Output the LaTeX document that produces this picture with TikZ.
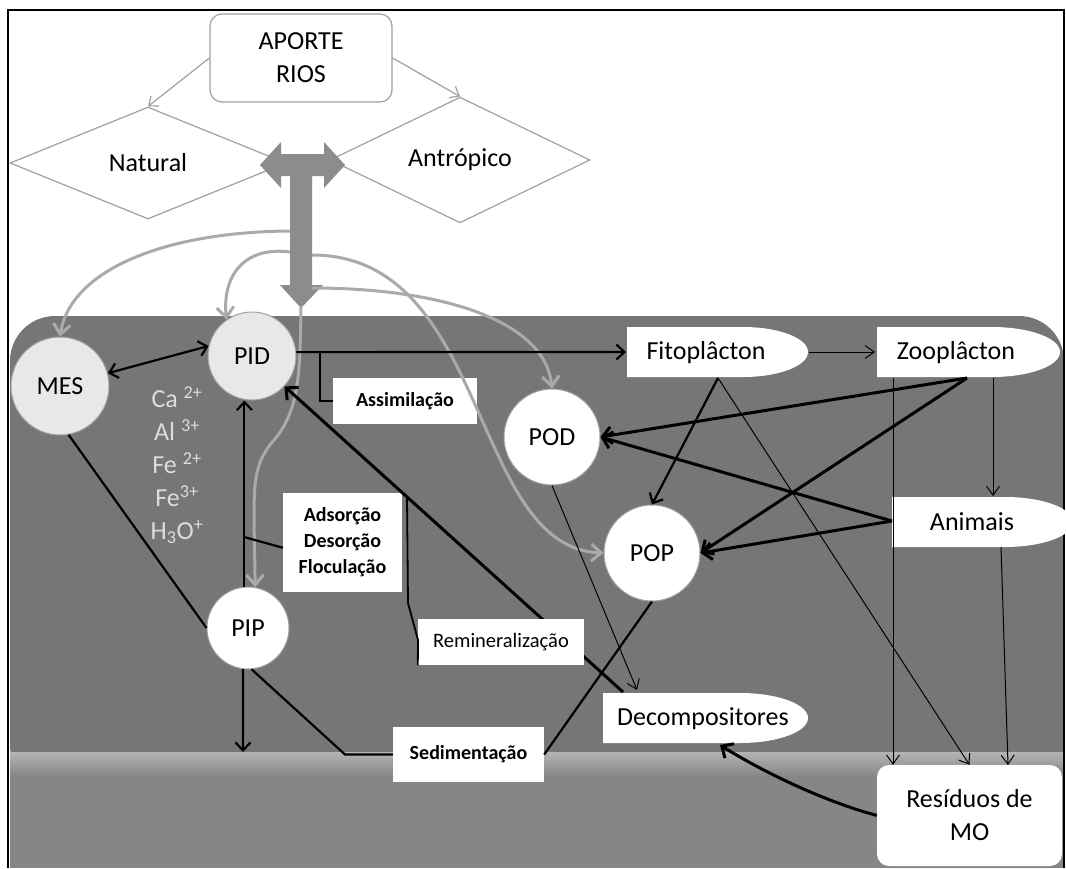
\documentclass[tikz,border=0pt]{standalone}
\usepackage{fontspec}
\setmainfont{Carlito}
\usetikzlibrary{arrows.meta,calc,shapes.geometric}
\definecolor{water}{HTML}{767676}
\definecolor{sed}{HTML}{868686}
\definecolor{sedtop}{HTML}{B4B4B4}
\definecolor{bigarr}{HTML}{8C8C8C}
\definecolor{curvegray}{HTML}{AAAAAA}
\definecolor{lightfill}{HTML}{E8E8E8}
\definecolor{edgegray}{HTML}{A0A0A0}
\definecolor{iongray}{HTML}{DCDCDC}
\tikzset{
  txt/.style={inner sep=0pt, font=\fontsize{26}{33}\selectfont, align=center},
  circ/.style={circle, draw=edgegray, line width=1pt, fill=white, inner sep=0pt, font=\fontsize{26}{33}\selectfont},
  dia/.style={diamond, draw=edgegray, line width=1.2pt, fill=white, inner sep=0pt, font=\fontsize{26}{33}\selectfont},
  lbl/.style={fill=white, inner sep=0pt, font=\bfseries\fontsize{20}{26}\selectfont, align=center},
  pill/.style={fill=white},
  blk/.style={draw=black, line width=2.2pt, -{Straight Barb[length=8pt,width=15pt]}},
  blkk/.style={draw=black, line width=3pt, -{Straight Barb[length=9pt,width=17pt]}},
  thinarr/.style={draw=black, line width=1pt, -{Straight Barb[length=9pt,width=13pt]}},
  ln/.style={draw=black, line width=2.2pt},
  gc/.style={draw=curvegray, line width=3pt, -{Straight Barb[length=10pt,width=17pt]}},
  gthin/.style={draw=edgegray, line width=1.2pt, -{Straight Barb[length=8pt,width=13pt]}},
}
\begin{document}
\begin{tikzpicture}[x=1pt,y=-1pt]
\useasboundingbox (0,0) rectangle (1066,868);
% background
\fill[white] (0,0) rectangle (1066,868);
\fill[water, rounded corners=45pt] (10,790) rectangle (1064,316);
\fill[sed] (10,752) rectangle (1064,868);
\shade[top color=sedtop, bottom color=sed] (10,752) rectangle (1064,776);
\draw[line width=2.5pt] (8,868) -- (8,10) -- (1064,10) -- (1064,868);

% top
\node[draw=edgegray, line width=1.2pt, rounded corners=12pt, fill=white, minimum width=182pt, minimum height=88pt, txt] (aporte) at (301,58) {APORTE\\RIOS};
\node[dia, minimum width=276pt, minimum height=112pt] (natural) at (148,163) {Natural};
\node[dia, minimum width=260pt, minimum height=111pt] (antro) at (460,160) {Antrópico};
\draw[gthin] (aporte.west) -- (natural.north);
\draw[gthin] (aporte.east) -- (antro.north);

% big T arrow
\fill[bigarr] (260,165) -- (281,142) -- (281,154) -- (324,154) -- (324,142) -- (345,165) -- (324,188) -- (324,176) -- (312,176) -- (312,285) -- (323,285) -- (301,308) -- (280,285) -- (290,285) -- (290,176) -- (281,176) -- (281,188) -- cycle;
\coordinate (s1) at (290,231);
\coordinate (s2) at (290,252);
\coordinate (s3) at (312,255);
\coordinate (s4) at (312,288);
\coordinate (stip) at (301,306);

% shapes of the organisms
\fill[pill] (627,327) -- (743,327) arc[start angle=90,end angle=-90,x radius=65pt,y radius=25pt] -- (627,377) -- cycle;
\node[txt] (fito) at (706,353) {Fitoplâcton};
\fill[pill] (877,327) -- (992,327) arc[start angle=90,end angle=-90,x radius=68pt,y radius=25pt] -- (877,377) -- cycle;
\node[txt] (zoo) at (956,353) {Zooplâcton};
\fill[pill] (892,497) -- (1005,497) arc[start angle=90,end angle=-90,x radius=68pt,y radius=25pt] -- (892,547) -- cycle;
\node[txt] (ani) at (972,522) {Animais};
\fill[pill] (603,693) -- (740,693) arc[start angle=90,end angle=-90,x radius=68pt,y radius=25pt] -- (603,743) -- cycle;
\node[txt] (dec) at (703,719) {Decompositores};
\node[fill=white, rounded corners=12pt, minimum width=185pt, minimum height=101pt, txt, inner sep=0pt] (res) at (969.5,815.5) {Resíduos de\\MO};

% circles
\node[circ, fill=lightfill, minimum size=98pt] (mes) at (60,386) {MES};
\node[circ, fill=lightfill, minimum size=88pt] (pid) at (252,356) {PID};
\node[circ, minimum size=82pt] (pip) at (248,628) {PIP};
\node[circ, minimum size=96pt] (pod) at (552,437) {POD};
\node[circ, minimum size=96pt] (pop) at (652,553) {POP};

\node[txt, text=iongray, font=\fontsize{26}{33}\selectfont] (ions) at (177,465) {Ca \textsuperscript{2+}\\Al \textsuperscript{3+}\\Fe \textsuperscript{2+}\\Fe\textsuperscript{3+}\\H\textsubscript{3}O\textsuperscript{+}};

% process labels
\node[lbl, minimum width=144pt, minimum height=46pt] (assim) at (405,401) {Assimilação};
\node[lbl, minimum width=119pt, minimum height=99pt, font=\bfseries\fontsize{20}{26}\selectfont] (ads) at (342.5,542.5) {Adsorção\\Desorção\\Floculação};
\node[lbl, minimum width=151pt, minimum height=55pt] (sedim) at (468.5,754.5) {Sedimentação};

% connection points
\coordinate (fitoL) at (626,352);
\coordinate (fitoR) at (809,352);
\coordinate (zooL) at (875,352);
\coordinate (fitoB) at (718,378);
\coordinate (zooB) at (967,378);
\coordinate (zooBL) at (893,378);
\coordinate (zooB2) at (993,378);
\coordinate (aniT) at (993,496);
\coordinate (aniL) at (892,521);
\coordinate (aniB) at (1001,547);
\coordinate (resC) at (1008,765);
\coordinate (decT) at (637,690);
\coordinate (decTL) at (623,692);
\coordinate (decB) at (720,745);
\coordinate (ab) at (320,352);
\coordinate (adb) at (244,537);
\coordinate (sedA) at (243,752);
\coordinate (sbend) at (345,754.5);
\coordinate (rb) at (407,497);

% gray curves from the input arrow
\draw[gc] (s1) .. controls (160,232) and (70,272) .. (mes.north);
\draw[gc] (s2) .. controls (245,246) and (222,275) .. (pid.125);
\draw[gc] (s3) .. controls (490,255) and (470,548) .. (pop.west);
\draw[gc] (s4) .. controls (440,288) and (545,320) .. (pod.north);
\draw[gc] (stip) .. controls (300,370) and (300,410) .. (274,440) .. controls (255,462) and (254,480) .. (254,520) -- (pip.80);

% black connectors
\draw[blk, {Straight Barb[length=8pt,width=15pt]}-{Straight Barb[length=8pt,width=15pt]}] (mes.15) -- (pid.167);
\draw[blk] (pid.5) -- (fitoL);
\draw[ln] (ab) |- (assim.west);
\draw[thinarr] (fitoR) -- (zooL);
\draw[blk] (pip.95) -- (pip.95 |- pid.south);
\draw[ln] (adb) -- (ads.185);
\draw[blkk] (decTL) -- (pid.-43);
\draw[blk] (fitoB) -- (pop.north);
\draw[thinarr] (fitoB) -- (res.north);
\draw[blkk] (zooB) -- (pod.east);
\draw[blkk] (zooB) -- (pop.east);
\draw[blkk] (aniL) -- (pod.east);
\draw[blkk] (aniL) -- (pop.east);
\draw[thinarr] (zooB2) -- (aniT);
\draw[thinarr] (zooBL) -- (zooBL |- res.north);
\draw[thinarr] (aniB) -- (resC);
\draw[thinarr] (pod.south) -- (decT);
\draw[ln] (mes.-80) -- (pip.west);
\draw[blk] (pip.263) -- (sedA);
\draw[ln] (pip.275) -- (sbend) -- (sedim.west);
\draw[ln] (pop.south) -- (sedim.east);
\draw[blkk] (res.west) .. controls (820,800) and (760,770) .. (decB);

% remineralization label on top of the line
\node[fill=white, inner sep=0pt, minimum width=166pt, minimum height=46pt, font=\fontsize{20.5}{26}\selectfont] (remin) at (501,642) {Remineralização};
\draw[ln, line width=1.8pt] (rb) -- (408,603) -- (418,640) -- (remin.south west);
\end{tikzpicture}
\end{document}
